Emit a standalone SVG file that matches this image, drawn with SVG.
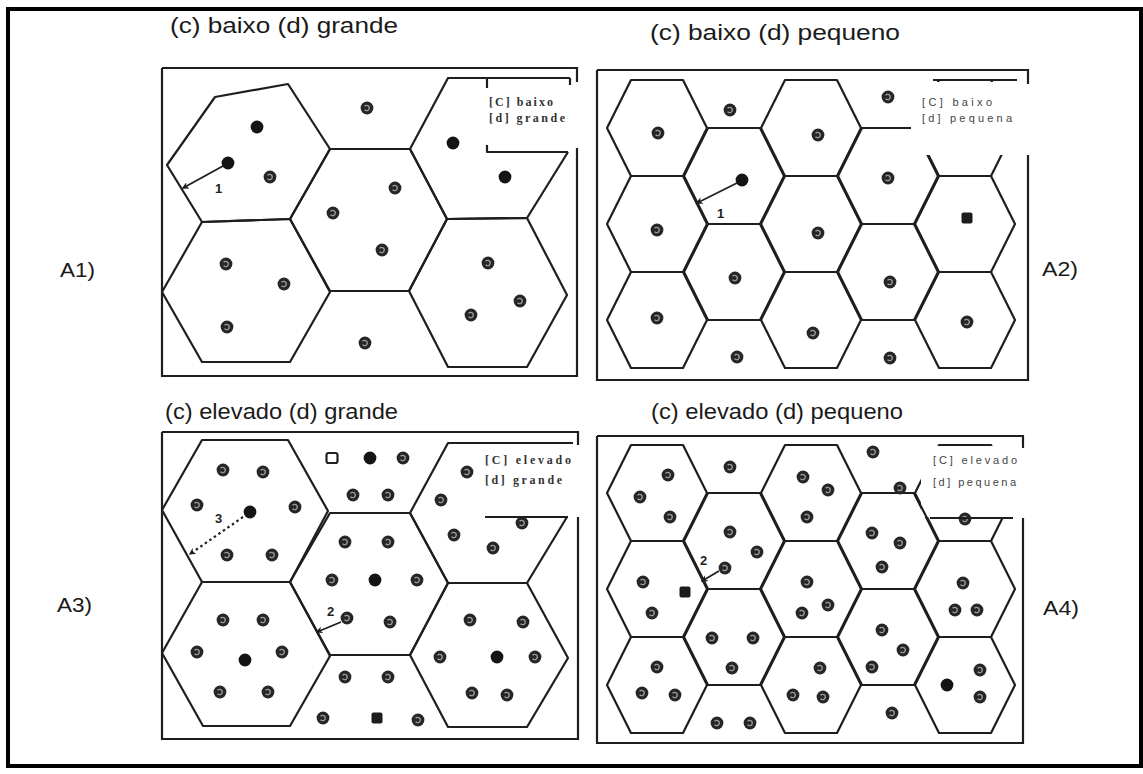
<svg xmlns="http://www.w3.org/2000/svg" xmlns:xlink="http://www.w3.org/1999/xlink" width="1143" height="774" viewBox="0 0 1143 774">
<style>
.hx{fill:none;stroke:#1e1e1e;stroke-width:2.2;stroke-linejoin:round}
.fr{fill:none;stroke:#1e1e1e;stroke-width:2.2}
.ttl{font-family:"Liberation Sans",Arial,sans-serif;font-size:22px;fill:#1a1a1a}
.side{font-family:"Liberation Sans",Arial,sans-serif;font-size:20px;fill:#1a1a1a}
.lgs{font-family:"Liberation Serif","Times New Roman",serif;font-size:12px;fill:#333;font-weight:bold}
.lgn{font-family:"Liberation Sans",Arial,sans-serif;font-size:11px;fill:#444}
.num{font-family:"Liberation Sans",Arial,sans-serif;font-size:13px;font-weight:bold;fill:#222}
.arr{fill:none;stroke:#1e1e1e;stroke-width:1.8;marker-end:url(#ah)}
.arrd{fill:none;stroke:#1e1e1e;stroke-width:2.2;stroke-dasharray:2.5 3;marker-end:url(#ah)}
.wb{fill:#fff;stroke:none}
</style>
<defs>
<marker id="ah" viewBox="0 0 10 10" refX="8" refY="5" markerWidth="7" markerHeight="7" orient="auto" markerUnits="userSpaceOnUse">
<path d="M0,0 L10,5 L0,10 L3,5 Z" fill="#1e1e1e"/>
</marker>
<g id="p"><circle r="6.4" fill="#262626"/><path d="M-2.4,-1.6 A2.6,2.6 0 1 1 -2.4,1.6" fill="none" stroke="#9a9a9a" stroke-width="1.4"/></g>
<g id="k"><circle r="6.4" fill="#141414"/></g>
<g id="s"><rect x="-5.5" y="-5.5" width="11" height="11" rx="2" fill="#1c1c1c"/></g>
<g id="o"><rect x="-5.5" y="-5" width="11" height="10" rx="2" fill="#fff" stroke="#222" stroke-width="2.2"/></g>
</defs>
<rect x="0" y="0" width="1143" height="774" fill="#fff"/>
<rect id="outer-frame" x="8" y="9" width="1133" height="757" fill="none" stroke="#000" stroke-width="4"/>

<!-- titles and side labels -->
<g id="titles">
<text class="ttl" x="170" y="33" textLength="228" lengthAdjust="spacingAndGlyphs">(c) baixo (d) grande</text>
<text class="ttl" x="650" y="40" textLength="250" lengthAdjust="spacingAndGlyphs">(c) baixo (d) pequeno</text>
<text class="ttl" x="165" y="419" textLength="233" lengthAdjust="spacingAndGlyphs">(c) elevado (d) grande</text>
<text class="ttl" x="651" y="419" textLength="252" lengthAdjust="spacingAndGlyphs">(c) elevado (d) pequeno</text>
<text class="side" x="60" y="277" textLength="35" lengthAdjust="spacingAndGlyphs">A1)</text>
<text class="side" x="1042" y="276" textLength="36" lengthAdjust="spacingAndGlyphs">A2)</text>
<text class="side" x="57" y="612" textLength="35" lengthAdjust="spacingAndGlyphs">A3)</text>
<text class="side" x="1043" y="615" textLength="36" lengthAdjust="spacingAndGlyphs">A4)</text>
</g>

<!-- ================= A1 ================= -->
<g id="panel-A1">
<path class="fr" d="M162,68 H577 V82 M577,148 V376 H162 V68"/>
<g id="A1-cells">
<polygon class="hx" points="167,165 215,97 288,84 330,149 290,219 202,222"/>
<polygon class="hx" points="202,222 290,219 330,292 290,362 202,362 162,292"/>
<polygon class="hx" points="330,149 410,149 447,219 409,291 330,291 290,219"/>
<polyline class="hx" points="570,78 448,78 410,149 447,219 527,218 568,152"/>
<polygon class="hx" points="447,219 527,218 567,295 527,367 448,367 409,291"/>
</g>
<g id="A1-legend">
<path class="hx" d="M570,78 V85 M487,78 V88 M487,145 V152 H568"/>
<text class="lgs" x="489" y="106" textLength="64" lengthAdjust="spacing">[C] baixo</text>
<text class="lgs" x="489" y="122" textLength="76" lengthAdjust="spacing">[d] grande</text>
</g>
<g id="A1-points">
<use href="#k" x="257" y="127"/><use href="#k" x="228" y="163"/><use href="#k" x="453" y="143"/><use href="#k" x="505" y="177"/>
<use href="#p" x="270" y="177"/><use href="#p" x="367" y="108"/><use href="#p" x="333" y="213"/><use href="#p" x="395" y="188"/>
<use href="#p" x="382" y="250"/><use href="#p" x="226" y="264"/><use href="#p" x="284" y="284"/><use href="#p" x="227" y="327"/>
<use href="#p" x="365" y="343"/><use href="#p" x="488" y="263"/><use href="#p" x="520" y="301"/><use href="#p" x="471" y="315"/>
</g>
</g>

<!-- ================= A2 ================= -->
<g id="panel-A2">
<path class="fr" d="M597,70 H1028 V84 M1028,155 V381 M1028,380 H597 V70"/>
<g id="A2-cells">
<polygon class="hx" points="607,128 631,80 683,80 707,128 683,176 631,176"/>
<polygon class="hx" points="607,224 631,176 683,176 707,224 683,272 631,272"/>
<polygon class="hx" points="607,320 631,272 683,272 707,320 683,368 631,368"/>
<polygon class="hx" points="684,176 708,128 760,128 784,176 760,224 708,224"/>
<polygon class="hx" points="684,272 708,224 760,224 784,272 760,320 708,320"/>
<polygon class="hx" points="761,128 785,80 837,80 861,128 837,176 785,176"/>
<polygon class="hx" points="761,224 785,176 837,176 861,224 837,272 785,272"/>
<polygon class="hx" points="761,320 785,272 837,272 861,320 837,368 785,368"/>
<polygon class="hx" points="838,176 862,128 914,128 938,176 914,224 862,224"/>
<polygon class="hx" points="838,272 862,224 914,224 938,272 914,320 862,320"/>
<polygon class="hx" points="915,128 939,80 991,80 1015,128 991,176 939,176"/>
<polygon class="hx" points="915,224 939,176 991,176 1015,224 991,272 939,272"/>
<polygon class="hx" points="915,320 939,272 991,272 1015,320 991,368 939,368"/>
</g>
<g id="A2-legend">
<rect class="wb" x="911" y="82" width="115" height="73"/>
<path class="hx" d="M933,80 H1017"/>
<text class="lgn" x="922" y="106" textLength="70" lengthAdjust="spacing">[C] baixo</text>
<text class="lgn" x="922" y="122" textLength="90" lengthAdjust="spacing">[d] pequena</text>
</g>
<g id="A2-points">
<use href="#k" x="742" y="180"/><use href="#s" x="967" y="218"/>
<use href="#p" x="658" y="133"/><use href="#p" x="730" y="110"/><use href="#p" x="657" y="230"/><use href="#p" x="818" y="135"/>
<use href="#p" x="818" y="233"/><use href="#p" x="735" y="278"/><use href="#p" x="657" y="318"/><use href="#p" x="813" y="333"/>
<use href="#p" x="737" y="357"/><use href="#p" x="888" y="97"/><use href="#p" x="888" y="178"/><use href="#p" x="890" y="282"/>
<use href="#p" x="967" y="322"/><use href="#p" x="890" y="358"/>
</g>
</g>

<!-- ================= A3 ================= -->
<g id="panel-A3">
<path class="fr" d="M162,432 H578 V445 M578,517 V740 M578,739 H162 V432"/>
<g id="A3-cells">
<polygon class="hx" points="202,440 288,440 328,511 290,582 202,582 162,510"/>
<polygon class="hx" points="202,582 290,582 330,656 290,726 203,726 162,653"/>
<polygon class="hx" points="330,513 410,513 448,583 410,655 330,655 290,582"/>
<polyline class="hx" points="573,443 448,443 410,513 448,583 527,583 567,517"/>
<polygon class="hx" points="448,583 527,583 568,658 527,727 448,727 410,655"/>
</g>
<g id="A3-points">
<use href="#p" x="522" y="523"/>
</g>
<g id="A3-legend">
<path class="hx" d="M485,517 H568"/>
<text class="lgs" x="485" y="464" textLength="86" lengthAdjust="spacing">[C] elevado</text>
<text class="lgs" x="485" y="484" textLength="77" lengthAdjust="spacing">[d] grande</text>
</g>
<g id="A3-points-2">
<use href="#k" x="250" y="512"/><use href="#k" x="370" y="458"/><use href="#k" x="375" y="580"/><use href="#k" x="245" y="660"/>
<use href="#k" x="497" y="657"/><use href="#s" x="377" y="718"/><use href="#o" x="332" y="458"/>
<use href="#p" x="223" y="470"/><use href="#p" x="263" y="472"/><use href="#p" x="197" y="505"/><use href="#p" x="295" y="507"/>
<use href="#p" x="227" y="555"/><use href="#p" x="272" y="555"/><use href="#p" x="353" y="495"/><use href="#p" x="388" y="495"/>
<use href="#p" x="403" y="458"/><use href="#p" x="467" y="472"/><use href="#p" x="441" y="500"/><use href="#p" x="454" y="535"/>
<use href="#p" x="493" y="548"/><use href="#p" x="345" y="542"/><use href="#p" x="388" y="542"/><use href="#p" x="332" y="580"/>
<use href="#p" x="417" y="580"/><use href="#p" x="347" y="618"/><use href="#p" x="390" y="622"/><use href="#p" x="223" y="620"/>
<use href="#p" x="263" y="620"/><use href="#p" x="197" y="652"/><use href="#p" x="282" y="652"/><use href="#p" x="220" y="692"/>
<use href="#p" x="268" y="692"/><use href="#p" x="470" y="620"/><use href="#p" x="523" y="622"/><use href="#p" x="440" y="657"/>
<use href="#p" x="535" y="657"/><use href="#p" x="472" y="693"/><use href="#p" x="507" y="695"/><use href="#p" x="345" y="677"/>
<use href="#p" x="388" y="677"/><use href="#p" x="323" y="718"/><use href="#p" x="418" y="720"/>
</g>
</g>

<!-- ================= A4 ================= -->
<g id="panel-A4">
<path class="fr" d="M597,436 H1023 V448 M1023,518 V744 M1023,743 H597 V436"/>
<g id="A4-cells">
<polygon class="hx" points="607,493 631,445 683,445 707,493 683,541 631,541"/>
<polygon class="hx" points="607,589 631,541 683,541 707,589 683,637 631,637"/>
<polygon class="hx" points="607,685 631,637 683,637 707,685 683,733 631,733"/>
<polygon class="hx" points="684,541 708,493 760,493 784,541 760,589 708,589"/>
<polygon class="hx" points="684,637 708,589 760,589 784,637 760,685 708,685"/>
<polygon class="hx" points="761,493 785,445 837,445 861,493 837,541 785,541"/>
<polygon class="hx" points="761,589 785,541 837,541 861,589 837,637 785,637"/>
<polygon class="hx" points="761,685 785,637 837,637 861,685 837,733 785,733"/>
<polygon class="hx" points="838,541 862,493 914,493 938,541 914,589 862,589"/>
<polygon class="hx" points="838,637 862,589 914,589 938,637 914,685 862,685"/>
<polygon class="hx" points="915,493 939,445 991,445 1015,493 991,541 939,541"/>
<polygon class="hx" points="915,589 939,541 991,541 1015,589 991,637 939,637"/>
<polygon class="hx" points="915,685 939,637 991,637 1015,685 991,733 939,733"/>
</g>
<g id="A4-legend">
<rect class="wb" x="921" y="446" width="101" height="71"/>
<use href="#p" x="965" y="519"/>
<path class="hx" d="M930,518 H1013 M914,493 L927,518"/>
<text class="lgn" x="933" y="464" textLength="84" lengthAdjust="spacing">[C] elevado</text>
<text class="lgn" x="933" y="486" textLength="83" lengthAdjust="spacing">[d] pequena</text>
</g>
<g id="A4-points">
<use href="#s" x="685" y="592"/><use href="#k" x="947" y="685"/>
<use href="#p" x="668" y="475"/><use href="#p" x="640" y="497"/><use href="#p" x="670" y="517"/><use href="#p" x="730" y="467"/>
<use href="#p" x="730" y="532"/><use href="#p" x="757" y="552"/><use href="#p" x="725" y="568"/><use href="#p" x="643" y="582"/>
<use href="#p" x="652" y="613"/><use href="#p" x="712" y="638"/><use href="#p" x="753" y="638"/><use href="#p" x="732" y="668"/>
<use href="#p" x="657" y="667"/><use href="#p" x="642" y="693"/><use href="#p" x="675" y="695"/><use href="#p" x="717" y="723"/>
<use href="#p" x="750" y="723"/><use href="#p" x="803" y="477"/><use href="#p" x="828" y="490"/><use href="#p" x="807" y="517"/>
<use href="#p" x="807" y="582"/><use href="#p" x="828" y="605"/><use href="#p" x="802" y="613"/><use href="#p" x="820" y="668"/>
<use href="#p" x="793" y="695"/><use href="#p" x="823" y="697"/><use href="#p" x="873" y="452"/><use href="#p" x="900" y="488"/>
<use href="#p" x="872" y="533"/><use href="#p" x="900" y="543"/><use href="#p" x="882" y="567"/><use href="#p" x="882" y="630"/>
<use href="#p" x="903" y="650"/><use href="#p" x="872" y="667"/><use href="#p" x="892" y="713"/><use href="#p" x="963" y="583"/>
<use href="#p" x="955" y="610"/><use href="#p" x="977" y="610"/><use href="#p" x="980" y="670"/><use href="#p" x="980" y="697"/>
</g>
</g>

<!-- ================= connectors ================= -->
<g id="connectors">
<line class="arr" x1="223" y1="166" x2="183" y2="188"/>
<text class="num" x="215" y="193">1</text>
<line class="arr" x1="737" y1="183" x2="697" y2="203"/>
<text class="num" x="717" y="218">1</text>
<line class="arrd" x1="243" y1="517" x2="190" y2="554"/>
<text class="num" x="215" y="523">3</text>
<line class="arr" x1="341" y1="622" x2="317" y2="632"/>
<text class="num" x="327" y="616">2</text>
<line class="arr" x1="719" y1="571" x2="702" y2="581"/>
<text class="num" x="700" y="565">2</text>
</g>
</svg>
